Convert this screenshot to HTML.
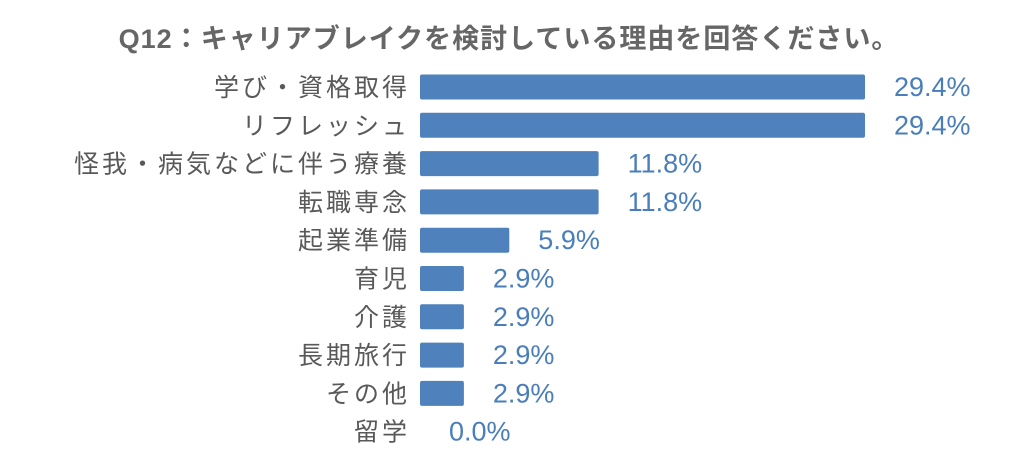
<!DOCTYPE html>
<html><head><meta charset="utf-8"><style>
body{margin:0;background:#fff;width:1024px;height:470px;overflow:hidden}
text{font-family:"Liberation Sans","Noto Sans CJK JP",sans-serif}
</style></head><body>
<svg id="chart" width="1024" height="470" xmlns="http://www.w3.org/2000/svg">
<text x="509" y="48" text-anchor="middle" font-size="27" letter-spacing="1" font-weight="bold" fill="#666">Q12：キャリアブレイクを検討している理由を回答ください。</text>
<g id="bars"></g>
</svg>
<script>
const categories=["学び・資格取得","リフレッシュ","怪我・病気などに伴う療養","転職専念","起業準備","育児","介護","長期旅行","その他","留学"];
const values=[29.4,29.4,11.8,11.8,5.9,2.9,2.9,2.9,2.9,0.0];
const valueLabels=["29.4%","29.4%","11.8%","11.8%","5.9%","2.9%","2.9%","2.9%","2.9%","0.0%"];
const x0=420, pxPer=445/29.4, y0=87, step=38.3, bh=25;
const xs=v=>x0+v*pxPer;
const ys=i=>y0+i*step;
const g=document.getElementById('bars');
const NS="http://www.w3.org/2000/svg";
categories.forEach((c,i)=>{
  const y=ys(i);
  const t=document.createElementNS(NS,'text');
  
  
  t.setAttribute('x',410);t.setAttribute('y',y+9);t.setAttribute('text-anchor','end');
  t.setAttribute('font-size','25');t.setAttribute('letter-spacing','3');t.setAttribute('fill','#595959');
  t.textContent=c;g.appendChild(t);
  const w=xs(values[i])-x0;
  if(w>0){
    const r=document.createElementNS(NS,'rect');
    
    
    r.setAttribute('x',x0);r.setAttribute('y',y-bh/2);r.setAttribute('width',w);r.setAttribute('height',bh);
    r.setAttribute('rx','2');r.setAttribute('fill','#4f81bd');g.appendChild(r);
  }
  const v=document.createElementNS(NS,'text');
  
  
  v.setAttribute('x',xs(values[i])+29);v.setAttribute('y',y+9);
  v.setAttribute('font-size','27');v.setAttribute('fill','#4a7ebb');
  v.textContent=valueLabels[i];g.appendChild(v);
});
</script>
</body></html>
